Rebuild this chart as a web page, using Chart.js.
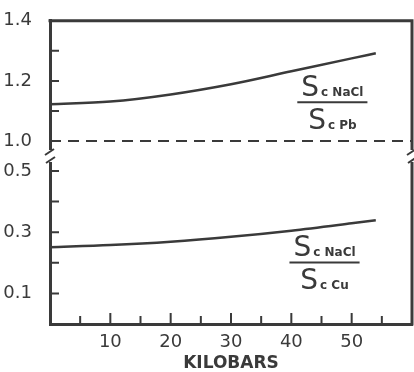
<!DOCTYPE html>
<html>
<head>
<meta charset="utf-8">
<script src="https://cdn.jsdelivr.net/npm/chart.js@4"></script>
<style>
  html, body { margin: 0; padding: 0; background: #fff; }
</style>
</head>
<body>
<canvas id="chart" width="414" height="372"></canvas>
<script>
// values
const kilobars = [0, 10, 20, 30, 40, 50, 54];
const ratioNaClPb = [1.122, 1.131, 1.155, 1.189, 1.232, 1.275, 1.292];
const ratioNaClCu = [0.251, 0.258, 0.269, 0.285, 0.305, 0.329, 0.339];
const referenceLine = [1.0, 1.0];
const referenceX = [0, 60];

const xTicks = [5, 10, 15, 20, 25, 30, 35, 40, 45, 50, 55];
const xLabels = [10, 20, 30, 40, 50];
const upperTicks = [1.0, 1.1, 1.2, 1.3, 1.4];
const upperLabels = [1.0, 1.2, 1.4];
const lowerTicks = [0.1, 0.2, 0.3, 0.4, 0.5];
const lowerLabels = [0.1, 0.3, 0.5];

const INK = '#3a3a3a';
const FONT = 'DejaVu Sans';

const toPoints = (xs, ys) => xs.map((x, i) => ({ x: x, y: ys[i] }));
const hasValue = (list, v) => list.some(t => Math.abs(t - v) < 1e-6);

const drawFraction = (ctx, cx, ly, numSub, denSub) => {
  ctx.font = `28px "${FONT}"`;
  const sw = ctx.measureText('S').width;
  ctx.font = `bold 12px "${FONT}"`;
  const r1 = sw + 2 + ctx.measureText(numSub).width;
  const r2 = sw + 2 + ctx.measureText(denSub).width;
  const lw = Math.max(r1, r2) + 8;

  ctx.lineWidth = 2;
  ctx.beginPath();
  ctx.moveTo(cx - lw / 2, ly);
  ctx.lineTo(cx + lw / 2, ly);
  ctx.stroke();

  const row = (sub, r, base) => {
    const x0 = cx - r / 2;
    ctx.font = `28px "${FONT}"`;
    ctx.fillText('S', x0, base);
    ctx.font = `bold 12px "${FONT}"`;
    ctx.fillText(sub, x0 + sw + 2, base);
  };
  ctx.textBaseline = 'alphabetic';
  ctx.textAlign = 'left';
  row(numSub, r1, ly - 6);
  row(denSub, r2, ly + 27);
};

const breakMark = (ctx, x, y) => {
  ctx.fillStyle = '#fff';
  ctx.fillRect(x - 3, y - 6, 6, 12);
  ctx.fillStyle = INK;
  ctx.lineWidth = 2;
  ctx.beginPath();
  ctx.moveTo(x - 5, y - 1);
  ctx.lineTo(x + 4, y - 7);
  ctx.moveTo(x - 4, y + 7);
  ctx.lineTo(x + 5, y + 1);
  ctx.stroke();
};

const framePlugin = {
  id: 'frame',
  afterDraw(chart) {
    const { ctx, chartArea: a, scales } = chart;
    const { x, yTop, yBot } = scales;
    ctx.save();
    ctx.strokeStyle = INK;
    ctx.fillStyle = INK;
    ctx.lineCap = 'butt';

    // top and right border
    ctx.lineWidth = 3;
    ctx.beginPath();
    ctx.moveTo(a.left - 1.5, a.top);
    ctx.lineTo(a.right, a.top);
    ctx.lineTo(a.right, a.bottom + 1.5);
    ctx.stroke();

    // inward ticks
    ctx.lineWidth = 2;
    ctx.beginPath();
    upperTicks.slice(0, -1).forEach(v => {
      const py = yTop.getPixelForValue(v);
      ctx.moveTo(a.left, py);
      ctx.lineTo(a.left + 9, py);
    });
    lowerTicks.forEach(v => {
      const py = yBot.getPixelForValue(v);
      ctx.moveTo(a.left, py);
      ctx.lineTo(a.left + 9, py);
    });
    xTicks.forEach(v => {
      const px = x.getPixelForValue(v);
      const len = hasValue(xLabels, v) ? 11 : 8;
      ctx.moveTo(px, a.bottom);
      ctx.lineTo(px, a.bottom - len);
    });
    ctx.stroke();

    // axis break
    const yb = yTop.bottom;
    breakMark(ctx, a.left, yb);
    breakMark(ctx, a.right, yb);

    // ratio labels
    drawFraction(ctx, x.getPixelForValue(46.8), yTop.getPixelForValue(1.129), 'c NaCl', 'c Pb');
    drawFraction(ctx, x.getPixelForValue(45.5), yBot.getPixelForValue(0.201), 'c NaCl', 'c Cu');
    ctx.restore();
  }
};

const tickFont = { family: FONT, size: 18 };

new Chart(document.getElementById('chart'), {
  type: 'line',
  data: {
    datasets: [
      {
        data: toPoints(kilobars, ratioNaClPb),
        yAxisID: 'yTop',
        borderColor: INK,
        borderWidth: 2.5,
        pointRadius: 0,
        cubicInterpolationMode: 'monotone'
      },
      {
        data: toPoints(kilobars, ratioNaClCu),
        yAxisID: 'yBot',
        borderColor: INK,
        borderWidth: 2.5,
        pointRadius: 0,
        cubicInterpolationMode: 'monotone'
      },
      {
        data: toPoints(referenceX, referenceLine),
        yAxisID: 'yTop',
        borderColor: INK,
        borderWidth: 2,
        borderDash: [11, 7],
        pointRadius: 0
      }
    ]
  },
  options: {
    responsive: false,
    animation: false,
    devicePixelRatio: 1,
    layout: { padding: { top: 19, right: 2, left: 0, bottom: 0 } },
    plugins: { legend: { display: false }, tooltip: { enabled: false } },
    scales: {
      x: {
        type: 'linear',
        position: 'bottom',
        min: 0,
        max: 60,
        grid: { display: false },
        border: { display: true, color: INK, width: 3 },
        afterBuildTicks: s => { s.ticks = xTicks.map(v => ({ value: v })); },
        afterFit: s => { s.height = 48; },
        ticks: {
          autoSkip: false,
          maxRotation: 0,
          padding: 0,
          color: INK,
          font: tickFont,
          callback: v => hasValue(xLabels, v) ? String(v) : ''
        },
        title: {
          display: true,
          text: 'KILOBARS',
          color: INK,
          font: { family: FONT, size: 17, weight: 'bold' },
          padding: { top: 0, bottom: -2 }
        }
      },
      // the first stacked scale is laid out at the bottom
      yBot: {
        type: 'linear',
        position: 'left',
        stack: 'ratio',
        stackWeight: 169,
        min: 0,
        max: 0.549,
        grid: { display: false },
        border: { display: true, color: INK, width: 3 },
        afterBuildTicks: s => { s.ticks = lowerTicks.map(v => ({ value: v })); },
        afterFit: s => { s.width = 50; },
        ticks: {
          padding: 10,
          color: INK,
          font: tickFont,
          callback: v => hasValue(lowerLabels, v) ? v.toFixed(1) : ''
        }
      },
      yTop: {
        type: 'linear',
        position: 'left',
        stack: 'ratio',
        stackWeight: 136,
        min: 0.95,
        max: 1.4,
        grid: { display: false },
        border: { display: true, color: INK, width: 3 },
        afterBuildTicks: s => { s.ticks = upperTicks.map(v => ({ value: v })); },
        afterFit: s => { s.width = 50; },
        ticks: {
          padding: 10,
          color: INK,
          font: tickFont,
          callback: v => hasValue(upperLabels, v) ? v.toFixed(1) : ''
        }
      }
    }
  },
  plugins: [framePlugin]
});
</script>
</body>
</html>
